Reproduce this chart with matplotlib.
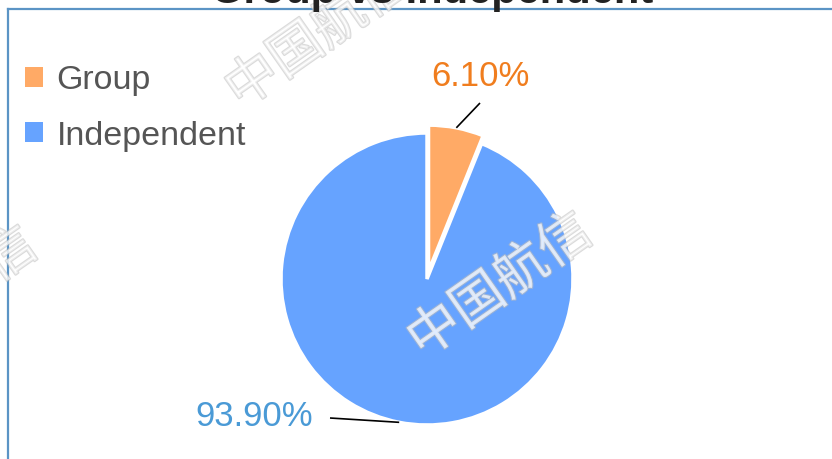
import numpy as np
import matplotlib.pyplot as plt
import matplotlib.patheffects as pe
from matplotlib.lines import Line2D

plt.rcParams['font.family'] = ['Liberation Sans', 'DejaVu Sans']

labels = ['Group', 'Independent']
values = [6.10, 93.90]
colors = ['#FFAA66', '#66A3FF']
label_colors = ['#F07D1E', '#4A9AD6']
title = 'Group vs Independent'

W, H = 832, 459
fig = plt.figure(figsize=(W / 100, H / 100), dpi=100, facecolor='white')
ax = fig.add_axes((0, 0, 1, 1))
ax.set_xlim(0, W)
ax.set_ylim(0, H)
ax.set_aspect('equal')
ax.axis('off')

cx, cy, r = 427, H - 279, 146
wedges, _ = ax.pie(values, colors=colors, startangle=90, counterclock=False,
                   center=(cx, cy), radius=r, explode=[8, 0],
                   wedgeprops=dict(edgecolor='white', linewidth=2.5))
ax.set_xlim(0, W)
ax.set_ylim(0, H)

# leader lines + percentage labels
text_pos = [(480, H - 76), (313, H - 417)]
elbow = [(480, H - 103), (330, H - 418)]
has = ['center', 'right']
start = 90
for i, v in enumerate(values):
    mid = np.deg2rad(start - v / 100 * 360 / 2)
    start -= v / 100 * 360
    off = 8 if i == 0 else 0
    ex = cx + (r + off) * np.cos(mid)
    ey = cy + (r + off) * np.sin(mid)
    ax.plot([ex, elbow[i][0]], [ey, elbow[i][1]], color='black', lw=1.2,
            solid_capstyle='butt')
    ax.text(text_pos[i][0], text_pos[i][1], f'{v:.2f}%', color=label_colors[i],
            fontsize=25, ha=has[i], va='center')

# legend
leg = fig.legend(wedges, labels, loc='upper left',
                 bbox_to_anchor=(25 / W, 1 - 65 / H), frameon=False,
                 fontsize=24.5, labelcolor='#555555', handlelength=0.53,
                 handleheight=0.53, handletextpad=0.4, labelspacing=0.72,
                 borderpad=0, borderaxespad=0)
for h in leg.legend_handles:
    h.set_edgecolor('none')

# watermarks
for x, y in [(318, H - 36), (500, H - 286), (-55, H - 300)]:
    fig.text(x / W, y / H, '中国航信', fontsize=38, rotation=35,
             ha='center', va='center', family=['Noto Sans CJK SC'],
             color='white', alpha=0.55,
             path_effects=[pe.withStroke(linewidth=1.6, foreground='#bdbdbd')])

# frame
fig.add_artist(Line2D([8 / W, 1], [1 - 9 / H, 1 - 9 / H], color='#5b94c5', lw=1.6,
                      transform=fig.transFigure))
fig.add_artist(Line2D([8 / W, 8 / W], [0, 1 - 9 / H], color='#5b94c5', lw=1.6,
                      transform=fig.transFigure))

# title (mostly cut off at the top)
fig.text(432 / W, 1 - 2.5 / H, title, fontsize=30, fontweight='bold',
         ha='center', va='baseline', color='#222222')

fig.savefig('out.png', dpi=100, facecolor='white')
